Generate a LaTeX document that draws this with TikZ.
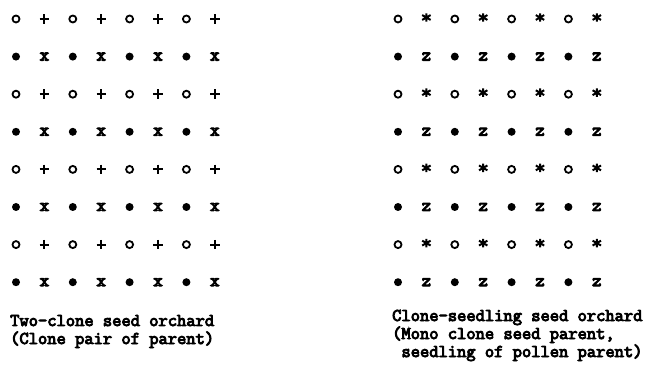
\documentclass[tikz,border=0pt]{standalone}
\usepackage{fontspec}
\newfontfamily\typew{Latin Modern Mono}[FakeBold=6]
\newfontfamily\typecap{Latin Modern Mono}[FakeBold=5]
\begin{document}
\begin{tikzpicture}[x=1pt,y=-1pt,
  sym/.style={font=\typew\fontsize{18}{18}\selectfont, inner sep=0pt, anchor=center},
  dot/.style={circle, fill=black, minimum size=8pt, inner sep=0pt},
  ring/.style={circle, draw=black, line width=1.8pt, minimum size=7pt, inner sep=0pt},
  plussym/.style={inner sep=0pt, minimum size=9pt},
  astsym/.style={inner sep=0pt, minimum size=8pt},
  captext/.style={font=\typecap\fontsize{18}{18}\selectfont, inner sep=0pt, anchor=base west}]
\useasboundingbox (0,0) rectangle (651,366);
% left grid
\foreach \r in {1,...,8}{
  \foreach \c in {1,...,8}{
    \pgfmathsetmacro{\xx}{16+(\c-1)*28.4}
    \pgfmathsetmacro{\yy}{19+(\r-1)*37.6}
    \pgfmathtruncatemacro{\ro}{mod(\r,2)}
    \pgfmathtruncatemacro{\co}{mod(\c,2)}
    \ifnum\ro=1
      \ifnum\co=1
        \node[ring] (L-\r-\c) at (\xx,\yy) {};
      \else
        \node[plussym] (L-\r-\c) at (\xx,\yy) {};
        \draw[line width=2pt] (L-\r-\c.west) -- (L-\r-\c.east) (L-\r-\c.north) -- (L-\r-\c.south);
      \fi
    \else
      \ifnum\co=1
        \node[dot] (L-\r-\c) at (\xx,\yy) {};
      \else
        \node[sym] (L-\r-\c) at (\xx,\yy) {x};
      \fi
    \fi
  }
}
% right grid
\foreach \r in {1,...,8}{
  \foreach \c in {1,...,8}{
    \pgfmathsetmacro{\xx}{398+(\c-1)*28.4}
    \pgfmathsetmacro{\yy}{19+(\r-1)*37.6}
    \pgfmathtruncatemacro{\ro}{mod(\r,2)}
    \pgfmathtruncatemacro{\co}{mod(\c,2)}
    \ifnum\ro=1
      \ifnum\co=1
        \node[ring] (R-\r-\c) at (\xx,\yy) {};
      \else
        \node[astsym] (R-\r-\c) at (\xx,\yy-1.5) {};
        \draw[line width=2pt] (R-\r-\c.north) -- (R-\r-\c.south)
          (R-\r-\c.30) -- (R-\r-\c.210) (R-\r-\c.150) -- (R-\r-\c.330);
      \fi
    \else
      \ifnum\co=1
        \node[dot] (R-\r-\c) at (\xx,\yy) {};
      \else
        \node[sym] (R-\r-\c) at (\xx,\yy) {z};
      \fi
    \fi
  }
}
% captions
\node[captext] (capL1) at (10,326) {Two-clone seed orchard};
\node[captext] (capL2) at (10,344) {(Clone pair of parent)};
\node[captext] (capR1) at (392,321) {Clone-seedling seed orchard};
\node[captext] (capR2) at (392,339) {(Mono clone seed parent,};
\node[captext] (capR3) at (392,357) {\ seedling of pollen parent)};
\end{tikzpicture}
\end{document}
